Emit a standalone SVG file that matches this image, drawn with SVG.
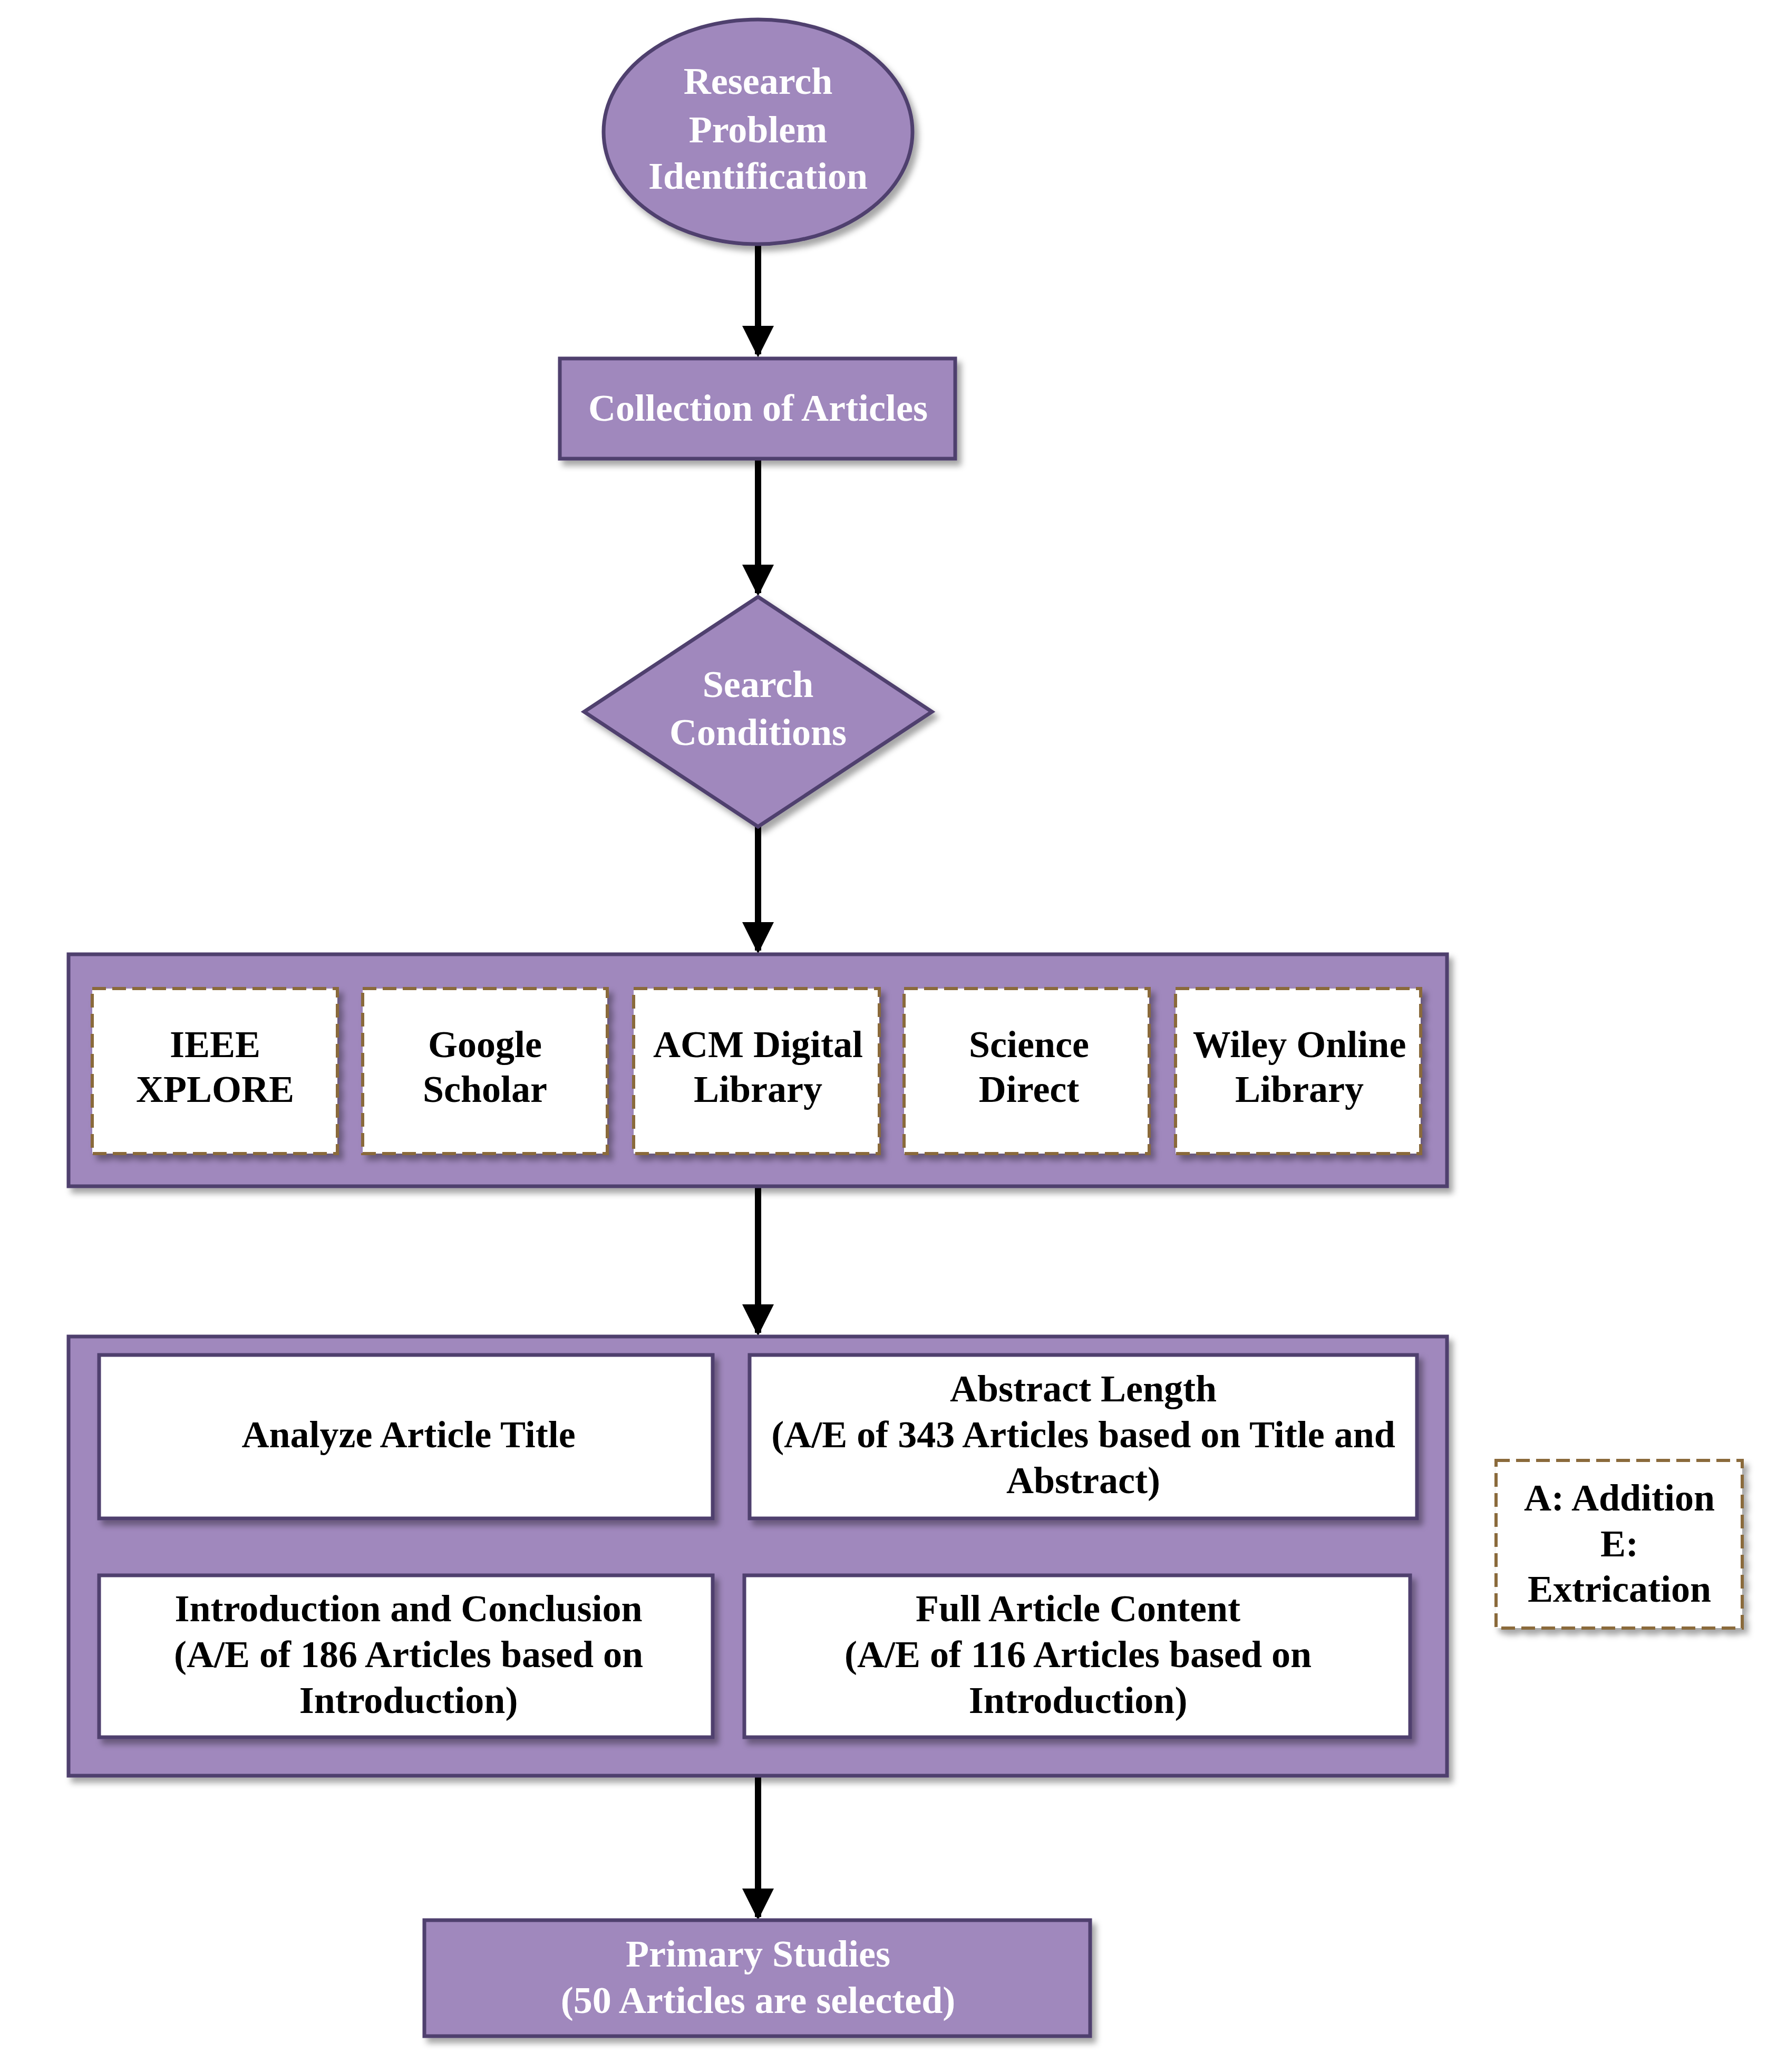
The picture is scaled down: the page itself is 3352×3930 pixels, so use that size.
<svg xmlns="http://www.w3.org/2000/svg" width="3352" height="3930" viewBox="0 0 3352 3930">
<defs>
<marker id="ah" viewBox="0 0 10 10" refX="9" refY="5" markerWidth="5" markerHeight="5" orient="auto" markerUnits="strokeWidth"><path d="M0,0 L10,5 L0,10 z" fill="#000"/></marker>
<filter id="sh" x="-10%" y="-10%" width="130%" height="130%"><feDropShadow dx="8" dy="10" stdDeviation="6" flood-color="#000" flood-opacity="0.35"/></filter>
<style>
.p{fill:#a088bd;stroke:#4f3f6e;stroke-width:7;filter:url(#sh)}
.d{fill:#fff;stroke:#8a6a3a;stroke-width:6;stroke-dasharray:26 12;filter:url(#sh)}
.w{fill:#fff;stroke:#4f3f6e;stroke-width:7;filter:url(#sh)}
text{font-family:"Liberation Serif","Times New Roman",serif;font-weight:bold;font-size:72px;text-anchor:middle}
.t{fill:#fff}
.k{fill:#000}
.c{stroke:#000;stroke-width:12;fill:none;marker-end:url(#ah)}
</style>
</defs>
<g id="connectors">
<line class="c" x1="1438" y1="463" x2="1438" y2="672"/>
<line class="c" x1="1438" y1="870" x2="1438" y2="1125"/>
<line class="c" x1="1438" y1="1568" x2="1438" y2="1803"/>
<line class="c" x1="1438" y1="2250" x2="1438" y2="2528"/>
<line class="c" x1="1438" y1="3368" x2="1438" y2="3636"/>
</g>
<g id="n1"><ellipse class="p" cx="1438" cy="250" rx="293" ry="213"/>
<text class="t" x="1438" y="178">Research</text><text class="t" x="1438" y="270">Problem</text><text class="t" x="1438" y="358">Identification</text></g>
<g id="n2"><rect class="p" x="1062" y="680" width="750" height="190"/><text class="t" x="1438" y="798">Collection of Articles</text></g>
<g id="n3"><polygon class="p" points="1438,1132 1768,1350 1438,1568 1108,1350"/>
<text class="t" x="1438" y="1322">Search</text><text class="t" x="1438" y="1413">Conditions</text></g>
<g id="g1"><rect class="p" x="130" y="1810" width="2615" height="440"/></g>
<g id="s1"><rect class="d" x="175" y="1875" width="465" height="313"/><text class="k" x="408" y="2005">IEEE</text><text class="k" x="408" y="2090">XPLORE</text></g>
<g id="s2"><rect class="d" x="688" y="1875" width="464" height="313"/><text class="k" x="920" y="2005">Google</text><text class="k" x="920" y="2090">Scholar</text></g>
<g id="s3"><rect class="d" x="1202" y="1875" width="466" height="313"/><text class="k" x="1438" y="2005">ACM Digital</text><text class="k" x="1438" y="2090">Library</text></g>
<g id="s4"><rect class="d" x="1715" y="1875" width="465" height="313"/><text class="k" x="1952" y="2005">Science</text><text class="k" x="1952" y="2090">Direct</text></g>
<g id="s5"><rect class="d" x="2230" y="1875" width="465" height="313"/><text class="k" x="2465" y="2005">Wiley Online</text><text class="k" x="2465" y="2090">Library</text></g>
<g id="g2"><rect class="p" x="130" y="2535" width="2615" height="833"/></g>
<g id="f1"><rect class="w" x="188" y="2570" width="1164" height="310"/><text class="k" x="775" y="2745">Analyze Article Title</text></g>
<g id="f2"><rect class="w" x="1422" y="2570" width="1266" height="310"/><text class="k" x="2055" y="2658">Abstract Length</text><text class="k" x="2055" y="2745">(A/E of 343 Articles based on Title and</text><text class="k" x="2055" y="2832">Abstract)</text></g>
<g id="f3"><rect class="w" x="188" y="2988" width="1164" height="307"/><text class="k" x="775" y="3075">Introduction and Conclusion</text><text class="k" x="775" y="3162">(A/E of 186 Articles based on</text><text class="k" x="775" y="3249">Introduction)</text></g>
<g id="f4"><rect class="w" x="1412" y="2988" width="1263" height="307"/><text class="k" x="2045" y="3075">Full Article Content</text><text class="k" x="2045" y="3162">(A/E of 116 Articles based on</text><text class="k" x="2045" y="3249">Introduction)</text></g>
<g id="legend"><rect class="d" x="2838" y="2770" width="467" height="318"/><text class="k" x="3072" y="2865">A: Addition</text><text class="k" x="3072" y="2952">E:</text><text class="k" x="3072" y="3038">Extrication</text></g>
<g id="n4"><rect class="p" x="805" y="3642" width="1263" height="220"/><text class="t" x="1438" y="3730">Primary Studies</text><text class="t" x="1438" y="3818">(50 Articles are selected)</text></g>
</svg>
